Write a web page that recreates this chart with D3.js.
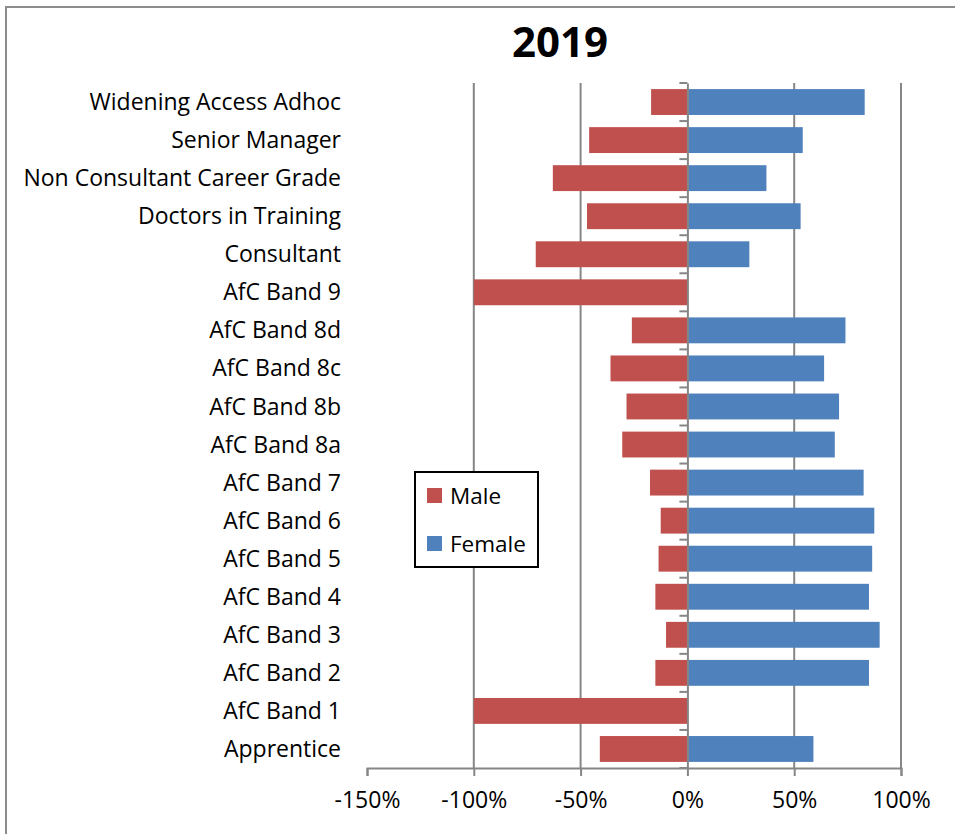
<!DOCTYPE html>
<html>
<head>
<meta charset="utf-8">
<script src="https://cdn.jsdelivr.net/npm/d3@7"></script>
<style>
  body { margin: 0; background: #fff; }
  svg { display: block; }
</style>
</head>
<body>
<div id="chart"></div>
<script>
// categories top to bottom
var categories = ["Widening Access Adhoc", "Senior Manager", "Non Consultant Career Grade",
    "Doctors in Training", "Consultant", "AfC Band 9", "AfC Band 8d", "AfC Band 8c",
    "AfC Band 8b", "AfC Band 8a", "AfC Band 7", "AfC Band 6", "AfC Band 5", "AfC Band 4",
    "AfC Band 3", "AfC Band 2", "AfC Band 1", "Apprentice"];

var male = [-0.17, -0.46, -0.63, -0.47, -0.71, -1.00, -0.26, -0.36, -0.285, -0.305,
    -0.175, -0.125, -0.135, -0.15, -0.10, -0.15, -1.00, -0.41];

var female = [0.83, 0.54, 0.37, 0.53, 0.29, 0, 0.74, 0.64, 0.71, 0.69,
    0.825, 0.875, 0.865, 0.85, 0.90, 0.85, 0, 0.59];

var xTicks = [-1.5, -1, -0.5, 0, 0.5, 1];

var W = 955, H = 834;
var margin = { top: 83, left: 367, right: 54, bottom: 66 };
var width = W - margin.left - margin.right;
var height = H - margin.top - margin.bottom;
var font = "'Open Sans', sans-serif";

var svg = d3.select("#chart").append("svg")
    .attr("width", W)
    .attr("height", H);

// outer border (left + top only visible)
svg.append("path")
    .attr("d", "M6,834 V7 H955")
    .attr("fill", "none")
    .attr("stroke", "#8c8c8c")
    .attr("stroke-width", 2);

svg.append("text")
    .attr("x", 560)
    .attr("y", 57)
    .attr("text-anchor", "middle")
    .attr("font-family", font)
    .attr("font-weight", "bold")
    .attr("font-size", 42)
    .text("2019");

var g = svg.append("g")
    .attr("transform", "translate(" + margin.left + "," + margin.top + ")");

var xScale = d3.scaleLinear()
    .domain([-1.5, 1])
    .range([0, width]);

var yScale = d3.scaleBand()
    .domain(categories)
    .range([0, height])
    .paddingInner(0.32)
    .paddingOuter(0.16);

// gridlines
g.selectAll(".grid")
    .data(xTicks.filter(function(d) { return d !== -1.5 && d !== 0; }))
    .enter().append("line")
    .attr("x1", function(d) { return xScale(d); })
    .attr("x2", function(d) { return xScale(d); })
    .attr("y1", 0)
    .attr("y2", height)
    .attr("stroke", "#868686")
    .attr("stroke-width", 2);

// male bars
g.selectAll(".male")
    .data(categories)
    .enter().append("rect")
    .attr("x", function(d, i) { return xScale(male[i]); })
    .attr("y", function(d) { return yScale(d); })
    .attr("width", function(d, i) { return xScale(0) - xScale(male[i]); })
    .attr("height", yScale.bandwidth())
    .attr("fill", "#c0504d");

// female bars
g.selectAll(".female")
    .data(categories)
    .enter().append("rect")
    .attr("x", xScale(0))
    .attr("y", function(d) { return yScale(d); })
    .attr("width", function(d, i) { return xScale(female[i]) - xScale(0); })
    .attr("height", yScale.bandwidth())
    .attr("fill", "#4f81bd");

// x axis
var pct = function(d) { return Math.round(d * 100) + "%"; };
var xAxis = g.append("g")
    .attr("transform", "translate(0," + height + ")")
    .call(d3.axisBottom(xScale)
        .tickValues(xTicks)
        .tickSize(8)
        .tickFormat(pct));
xAxis.select(".domain").attr("stroke", "#868686").attr("stroke-width", 2);
xAxis.selectAll(".tick line").attr("stroke", "#868686").attr("stroke-width", 2);
xAxis.selectAll(".tick text")
    .attr("y", 24)
    .attr("font-family", font)
    .attr("font-size", 23)
    .attr("fill", "#000");

// y axis at zero
var yAxis = g.append("g")
    .attr("transform", "translate(" + xScale(0) + ",0)")
    .call(d3.axisLeft(yScale).tickSize(0).tickFormat(""));
yAxis.select(".domain").attr("stroke", "#868686").attr("stroke-width", 2);

// boundary ticks between categories
var bounds = d3.range(categories.length + 1);
g.selectAll(".ytick")
    .data(bounds)
    .enter().append("line")
    .attr("x1", xScale(0) - 8)
    .attr("x2", xScale(0))
    .attr("y1", function(d) { return d * height / categories.length; })
    .attr("y2", function(d) { return d * height / categories.length; })
    .attr("stroke", "#868686")
    .attr("stroke-width", 2);

// category labels
g.selectAll(".label")
    .data(categories)
    .enter().append("text")
    .attr("x", -26)
    .attr("y", function(d) { return yScale(d) + yScale.bandwidth() / 2; })
    .attr("dy", "0.35em")
    .attr("text-anchor", "end")
    .attr("font-family", font)
    .attr("font-size", 23)
    .attr("fill", "#000")
    .text(function(d) { return d; });

// legend
var legend = svg.append("g")
    .attr("transform", "translate(415,472)");
legend.append("rect")
    .attr("width", 123)
    .attr("height", 95)
    .attr("fill", "#fff")
    .attr("stroke", "#000")
    .attr("stroke-width", 2);

var legendItems = [
    { name: "Male", color: "#c0504d" },
    { name: "Female", color: "#4f81bd" }
];
var li = legend.selectAll(".item")
    .data(legendItems)
    .enter().append("g")
    .attr("transform", function(d, i) { return "translate(12," + (16 + i * 48) + ")"; });
li.append("rect")
    .attr("width", 15)
    .attr("height", 15)
    .attr("fill", function(d) { return d.color; });
li.append("text")
    .attr("x", 23)
    .attr("y", 8)
    .attr("dy", "0.35em")
    .attr("font-family", font)
    .attr("font-size", 22.5)
    .attr("fill", "#000")
    .text(function(d) { return d.name; });
</script>
</body>
</html>
